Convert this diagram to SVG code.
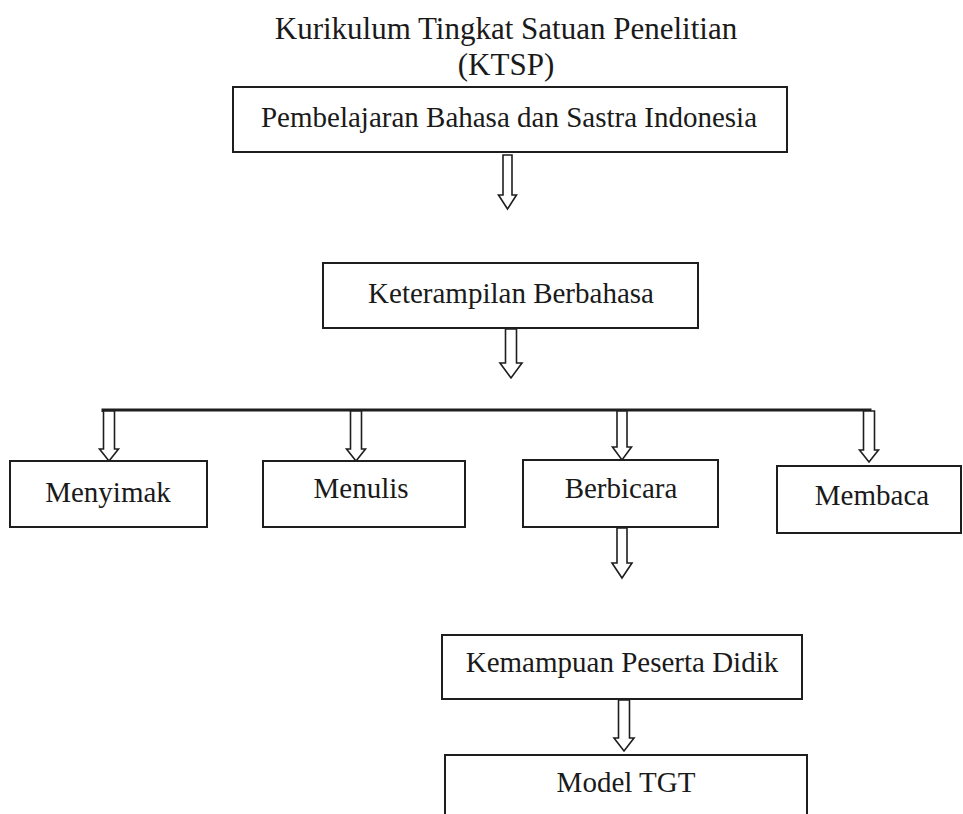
<svg xmlns="http://www.w3.org/2000/svg" width="963" height="814" viewBox="0 0 963 814">
<style>
  .bg { fill: #ffffff; }
  .box { fill: #ffffff; stroke: #1e1e1e; stroke-width: 2; }
  .t { font-family: "Liberation Serif", "Times New Roman", serif; font-size: 29px; fill: #1a1a1a; text-anchor: middle; }
  .title { font-size: 31px; }
  .arr { fill: #ffffff; stroke: #1e1e1e; stroke-width: 1.6; stroke-linejoin: miter; }
  .bar { fill: none; stroke: #1e1e1e; stroke-width: 3; }
</style>
<rect class="bg" x="0" y="0" width="963" height="814"/>

<g id="title">
  <text class="t title" x="506" y="39">Kurikulum Tingkat Satuan Penelitian</text>
  <text class="t title" x="506" y="75">(KTSP)</text>
</g>

<g id="connectors">
  <path class="bar" d="M103,412 V410 H870 V412"/>
  <path class="arr" d="M503,155 V195 H498.5 L507.5,209 L516.5,195 H512 V155 Z"/>
  <path class="arr" d="M505.5,329 V363 H500 L511,378 L522,363 H516.5 V329 Z"/>
  <path class="arr" d="M103.5,411 V449 H99.5 L109,461 L118.5,449 H114.5 V411 Z"/>
  <path class="arr" d="M350.5,411 V449 H346.5 L356,461 L365.5,449 H361.5 V411 Z"/>
  <path class="arr" d="M617,411 V447 H612.5 L622,460 L631.5,447 H627 V411 Z"/>
  <path class="arr" d="M863.5,411 V450 H859.5 L869,462 L878.5,450 H874.5 V411 Z"/>
  <path class="arr" d="M617,528 V563 H612 L622,578 L632,563 H627 V528 Z"/>
  <path class="arr" d="M618.5,700 V738 H614 L624,751 L634,738 H629.5 V700 Z"/>
</g>

<g id="node-pembelajaran">
  <rect class="box" x="233" y="87" width="554" height="65"/>
  <text class="t" x="509" y="127">Pembelajaran Bahasa dan Sastra Indonesia</text>
</g>

<g id="node-keterampilan">
  <rect class="box" x="323" y="263" width="375" height="65"/>
  <text class="t" x="511" y="303">Keterampilan Berbahasa</text>
</g>

<g id="node-menyimak">
  <rect class="box" x="10" y="461" width="197" height="66"/>
  <text class="t" x="108" y="502">Menyimak</text>
</g>

<g id="node-menulis">
  <rect class="box" x="263" y="461" width="202" height="66"/>
  <text class="t" x="361" y="498">Menulis</text>
</g>

<g id="node-berbicara">
  <rect class="box" x="523" y="460" width="195" height="67"/>
  <text class="t" x="621" y="498">Berbicara</text>
</g>

<g id="node-membaca">
  <rect class="box" x="777" y="466" width="184" height="67"/>
  <text class="t" x="872" y="505">Membaca</text>
</g>

<g id="node-kemampuan">
  <rect class="box" x="442" y="635" width="360" height="64"/>
  <text class="t" x="622" y="672">Kemampuan Peserta Didik</text>
</g>

<g id="node-model-tgt">
  <rect class="box" x="445" y="755" width="362" height="80"/>
  <text class="t" x="626" y="792">Model TGT</text>
</g>
</svg>
